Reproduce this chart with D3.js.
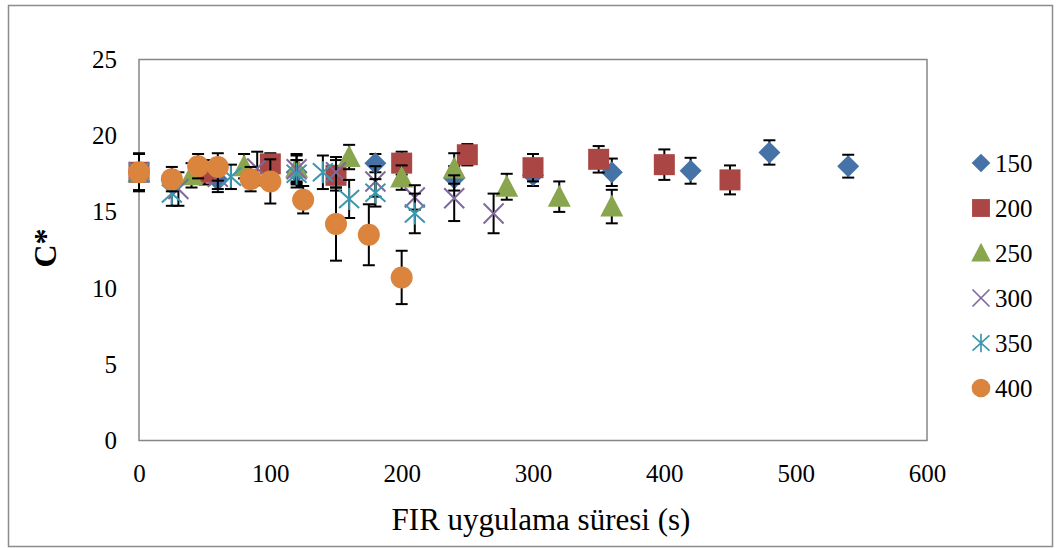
<!DOCTYPE html>
<html>
<head>
<meta charset="utf-8">
<script src="https://cdn.jsdelivr.net/npm/d3@7"></script>
<style>
  body { margin: 0; background: #fff; }
  svg { display: block; }
</style>
</head>
<body>
<svg id="chart"></svg>
<script>
const width = 1058;
const height = 548;

// series names (legend labels)
const seriesNames = ["150", "200", "250", "300", "350", "400"];

// time (s), C* value and error (+/-) for each series
const t150 = [0, 60, 120, 180, 240, 300, 360, 420, 480, 540];
const c150 = [17.6, 17.1, 17.6, 18.2, 17.2, 17.4, 17.6, 17.7, 18.9, 18.0];
const e150 = [1.2, 0.8, 0.8, 0.6, 0.8, 0.7, 0.9, 0.85, 0.8, 0.75];

const t200 = [0, 50, 100, 150, 200, 250, 300, 350, 400, 450];
const c200 = [17.6, 17.6, 18.15, 17.4, 18.2, 18.75, 17.9, 18.45, 18.1, 17.1];
const e200 = [1.2, 0.8, 0.7, 1.0, 0.75, 0.7, 0.9, 0.87, 1.0, 0.95];

const t250 = [0, 40, 80, 120, 160, 200, 240, 280, 320, 360];
const c250 = [17.6, 17.4, 18.0, 17.9, 18.6, 17.25, 17.85, 16.65, 16.0, 15.35];
const e250 = [1.2, 0.8, 0.8, 0.9, 0.8, 0.8, 1.0, 0.85, 1.0, 1.1];

const t300 = [0, 30, 60, 90, 120, 150, 180, 210, 240, 270];
const c300 = [17.6, 16.5, 17.3, 17.85, 17.8, 17.6, 17.0, 15.95, 15.9, 14.9];
const e300 = [1.2, 1.1, 0.8, 1.1, 0.9, 1.0, 1.0, 0.8, 1.5, 1.3];

const t350 = [0, 25, 70, 120, 140, 160, 180, 210];
const c350 = [17.6, 16.2, 17.3, 17.5, 17.6, 15.85, 16.25, 14.9];
const e350 = [1.2, 0.8, 0.8, 0.9, 1.1, 1.25, 0.9, 1.3];

const t400 = [0, 25, 45, 60, 85, 100, 125, 150, 175, 200];
const c400 = [17.6, 17.15, 18.0, 17.95, 17.15, 17.0, 15.8, 14.2, 13.5, 10.7];
const e400 = [1.25, 0.8, 0.8, 0.9, 0.8, 1.45, 0.9, 2.4, 2.0, 1.75];

const xTicks = [0, 100, 200, 300, 400, 500, 600];
const yTicks = [0, 5, 10, 15, 20, 25];

const colors = ["#4572A7", "#AA4643", "#89A54E", "#80699B", "#3D96AE", "#DB843D"];
const shapes = ["diamond", "square", "triangle", "x", "star", "circle"];

// build the series table from the arrays above
const allT = [t150, t200, t250, t300, t350, t400];
const allC = [c150, c200, c250, c300, c350, c400];
const allE = [e150, e200, e250, e300, e350, e400];
const series = seriesNames.map((name, i) => ({
  name: name,
  color: colors[i],
  shape: shapes[i],
  points: allT[i].map((t, j) => ({ t: t, c: allC[i][j], e: allE[i][j] }))
}));

const font = "'Liberation Serif', 'Times New Roman', serif";

let svg = d3.select("#chart")
  .attr("width", width)
  .attr("height", height)
  .style("font-family", font);

// outer chart border
svg.append("rect")
  .attr("x", 8.5).attr("y", 5.5)
  .attr("width", 1044).attr("height", 541)
  .attr("fill", "none")
  .attr("stroke", "#8c8c8c")
  .attr("stroke-width", 1.5);

const plot = {left: 139, right: 927, top: 59.5, bottom: 440.5};

let x = d3.scaleLinear().domain([0, 600]).range([plot.left, plot.right]);
let y = d3.scaleLinear().domain([0, 25]).range([plot.bottom, plot.top]);

// plot area frame
svg.append("rect")
  .attr("x", plot.left).attr("y", plot.top)
  .attr("width", plot.right - plot.left)
  .attr("height", plot.bottom - plot.top)
  .attr("fill", "none")
  .attr("stroke", "#868686")
  .attr("stroke-width", 1.5);

// axes (labels only, frame drawn above)
let xAxis = svg.append("g")
  .attr("transform", "translate(0," + plot.bottom + ")")
  .call(d3.axisBottom(x).tickValues(xTicks).tickSize(0).tickPadding(23.5));
let yAxis = svg.append("g")
  .attr("transform", "translate(" + plot.left + ",0)")
  .call(d3.axisLeft(y).tickValues(yTicks).tickSize(0).tickPadding(22));

[xAxis, yAxis].forEach(a => {
  a.select(".domain").remove();
  a.selectAll("text")
    .attr("fill", "#000")
    .style("font-family", font)
    .style("font-size", "25px");
});

// axis titles
svg.append("text")
  .attr("x", 541).attr("y", 530)
  .attr("text-anchor", "middle")
  .style("font-size", "31px")
  .text("FIR uygulama süresi (s)");

svg.append("text")
  .attr("transform", "translate(56,248) rotate(-90)")
  .attr("text-anchor", "middle")
  .style("font-size", "32px")
  .style("font-weight", "bold")
  .text("C*");

// marker drawing helper
function drawMarker(g, shape, color, cx, cy) {
  if (shape === "diamond") {
    g.append("path")
      .attr("d", `M${cx},${cy - 11}L${cx + 11},${cy}L${cx},${cy + 11}L${cx - 11},${cy}Z`)
      .attr("fill", color);
  } else if (shape === "square") {
    g.append("rect")
      .attr("x", cx - 10.5).attr("y", cy - 10.5)
      .attr("width", 21).attr("height", 21)
      .attr("fill", color);
  } else if (shape === "triangle") {
    g.append("path")
      .attr("d", `M${cx},${cy - 12}L${cx + 11.5},${cy + 10}L${cx - 11.5},${cy + 10}Z`)
      .attr("fill", color);
  } else if (shape === "x") {
    g.append("path")
      .attr("d", `M${cx - 10},${cy - 10}L${cx + 10},${cy + 10}M${cx - 10},${cy + 10}L${cx + 10},${cy - 10}`)
      .attr("stroke", color).attr("stroke-width", 2).attr("fill", "none");
  } else if (shape === "star") {
    g.append("path")
      .attr("d", `M${cx - 10},${cy - 9}L${cx + 10},${cy + 9}M${cx - 10},${cy + 9}L${cx + 10},${cy - 9}M${cx},${cy - 11}L${cx},${cy + 11}`)
      .attr("stroke", color).attr("stroke-width", 2).attr("fill", "none");
  } else {
    g.append("circle")
      .attr("cx", cx).attr("cy", cy).attr("r", 11)
      .attr("fill", color);
  }
}

// series: error bars, then markers
series.forEach(s => {
  let g = svg.append("g").attr("class", "series-" + s.name);

  let bars = g.selectAll(".err")
    .data(s.points)
    .enter()
    .append("g")
    .attr("class", "err")
    .attr("stroke", "#000")
    .attr("stroke-width", 2);

  bars.append("line")
    .attr("x1", d => x(d.t)).attr("x2", d => x(d.t))
    .attr("y1", d => y(d.c + d.e)).attr("y2", d => y(d.c - d.e));
  bars.append("line")
    .attr("x1", d => x(d.t) - 6).attr("x2", d => x(d.t) + 6)
    .attr("y1", d => y(d.c + d.e)).attr("y2", d => y(d.c + d.e));
  bars.append("line")
    .attr("x1", d => x(d.t) - 6).attr("x2", d => x(d.t) + 6)
    .attr("y1", d => y(d.c - d.e)).attr("y2", d => y(d.c - d.e));

  s.points.forEach(p => drawMarker(g, s.shape, s.color, x(p.t), y(p.c)));
});

// legend
let legend = svg.append("g").attr("class", "legend");
series.forEach((s, i) => {
  let ly = 163 + i * 45;
  let item = legend.append("g");
  let mg = item.append("g").attr("transform", "translate(981," + ly + ") scale(0.85)");
  drawMarker(mg, s.shape, s.color, 0, 0);
  item.append("text")
    .attr("x", 995).attr("y", ly)
    .attr("dy", "0.35em")
    .style("font-size", "25px")
    .text(s.name);
});
</script>
</body>
</html>
